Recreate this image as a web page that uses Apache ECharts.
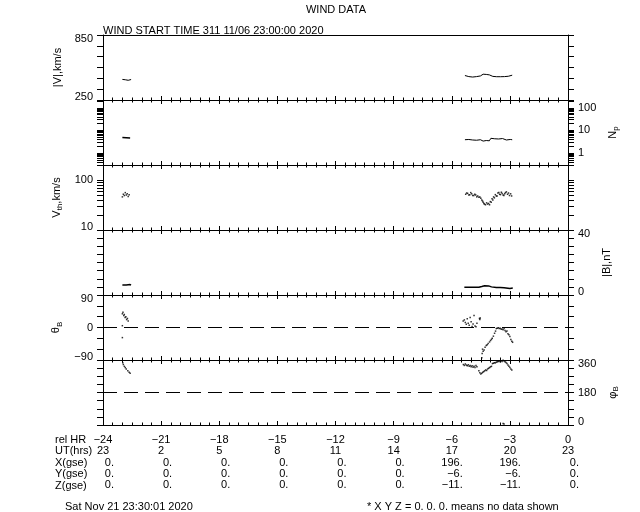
<!DOCTYPE html>
<html><head><meta charset="utf-8">
<script src="https://cdn.jsdelivr.net/npm/echarts@6/dist/echarts.min.js"></script>
<style>html,body{margin:0;padding:0;background:#fff}#c{width:640px;height:512px}</style>
</head><body><div id="c"></div>
<script>
// ---------------- DATA ----------------
// tick table (bottom)
const tickHours   = [-24, -21, -18, -15, -12, -9, -6, -3, 0];
const relHrLabels = ['−24','−21','−18','−15','−12','−9','−6','−3','0'];
const utLabels    = ['23','2','5','8','11','14','17','20','23'];
const xGse        = ['0.','0.','0.','0.','0.','0.','196.','196.','0.'];
const yGse        = ['0.','0.','0.','0.','0.','0.','−6.','−6.','0.'];
const zGse        = ['0.','0.','0.','0.','0.','0.','−11.','−11.','0.'];

// |V| km/s
const vEarlyT = [-23.0, -22.92, -22.85, -22.78, -22.7, -22.62, -22.55];
const vEarly  = [440, 446, 437, 430, 432, 436, 439];
const vLateT  = [-5.32,-5.22,-5.12,-5.02,-4.92,-4.82,-4.72,-4.62,-4.52,-4.45,-4.38,-4.3,-4.22,-4.14,-4.06,-3.98,-3.88,-3.78,-3.68,-3.58,-3.48,-3.38,-3.28,-3.18,-3.08,-2.98,-2.88];
const vLate   = [476,471,466,463,462,464,466,468,472,484,488,487,486,486,482,472,468,466,465,466,465,464,466,467,469,476,479];

// Np
const npEarlyT = [-23.0, -22.9, -22.8, -22.7, -22.6];
const npEarly  = [4.9, 5.0, 4.8, 4.9, 4.7];
const npLateT  = [-5.32,-5.22,-5.12,-5.02,-4.92,-4.82,-4.72,-4.62,-4.52,-4.45,-4.38,-4.3,-4.22,-4.14,-4.06,-3.98,-3.88,-3.78,-3.68,-3.58,-3.48,-3.38,-3.28,-3.18,-3.08,-2.98,-2.88];
const npLate   = [3.9,3.7,4.0,3.6,3.8,4.1,3.7,3.5,3.9,3.6,3.4,3.3,3.6,3.9,3.5,4.5,4.1,4.3,4.6,4.2,3.9,4.4,4.1,3.8,4.3,4.0,3.9];

// Vth km/s
const vthEarlyT = [-23.0,-22.95,-22.9,-22.85,-22.8,-22.75,-22.7,-22.65];
const vthEarly  = [46, 52, 49, 56, 50, 53, 47, 51];
const vthLateT  = [-5.28,-5.23,-5.18,-5.12,-5.07,-5.02,-4.97,-4.92,-4.86,-4.81,-4.76,-4.71,-4.66,-4.6,-4.55,-4.5,-4.45,-4.41,-4.38,-4.34,-4.31,-4.26,-4.2,-4.15,-4.1,-4.05,-4.01,-3.96,-3.92,-3.88,-3.84,-3.8,-3.75,-3.7,-3.66,-3.62,-3.57,-3.53,-3.49,-3.44,-3.4,-3.35,-3.31,-3.27,-3.23,-3.18,-3.12,-3.07,-3.02,-2.96,-2.91];
const vthLate   = [52,55,54,50,51,56,53,49,49,52,50,46,48,45,46,43,40,38,36,34,33,32,35,33,34,32,37,36,42,40,46,44,51,48,48,55,56,52,51,57,54,50,49,53,56,58,52,55,49,53,48];

// |B| nT
const bEarlyT = [-23.0,-22.9,-22.8,-22.7,-22.6,-22.55];
const bEarly  = [6.2, 6.4, 6.1, 6.3, 6.4, 6.2];
const bLateT  = [-5.35,-5.2,-5.0,-4.8,-4.6,-4.5,-4.45,-4.4,-4.3,-4.1,-4.0,-3.95,-3.9,-3.7,-3.5,-3.3,-3.25,-3.2,-3.0,-2.9,-2.85];
const bLate   = [4.8,4.8,4.8,4.8,4.8,4.7,5.2,5.6,5.7,5.6,5.6,5.0,4.7,4.6,4.6,4.5,4.2,4.0,4.0,4.1,4.3];

// theta_B deg
const thEarlyT = [-23.0,-22.97,-22.93,-22.9,-22.86,-22.82,-22.78,-22.74,-22.7,-23.0,-23.0];
const thEarly  = [38, 42, 33, 36, 28, 30, 22, 25, 18, 5, -28];
const thLateT  = [-5.41,-5.35,-5.3,-5.25,-5.2,-5.15,-5.1,-5.05,-5.0,-4.95,-4.9,-4.85,-4.8,-4.75,-4.7,-4.57,-4.55,-4.53,
                  -4.45,-4.43,-4.41,-4.38,-4.33,-4.28,-4.22,-4.17,-4.12,-4.05,-4.0,-3.95,-3.91,-3.85,-3.79,-3.74,-3.7,
                  -3.65,-3.6,-3.55,-3.5,-3.45,-3.4,-3.35,-3.3,-3.25,-3.2,-3.15,-3.1,-3.05,-3.0,-2.95,-2.9,-2.86];
const thLate   = [18,21,14,9,24,12,6,28,16,3,10,33,4,2,12,25,22,26,
                  -84,-72,-60,-66,-62,-55,-50,-48,-44,-40,-36,-33,-30,-24,-16,-10,-3,
                  -2,-1,-3,-2,-5,-4,-6,-3,-8,-12,-10,-17,-20,-25,-33,-38,-41];

// phi_B deg
const phEarlyT = [-22.98,-22.95,-22.9,-22.85,-22.8,-22.72,-22.65,-22.6];
const phEarly  = [345, 335, 325, 318, 310, 300, 292, 286];
const phLateT  = [-5.4,-5.35,-5.3,-5.25,-5.2,-5.15,-5.1,-5.05,-5.0,-4.95,-4.9,-4.85,-4.8,-4.75,-4.7,
                  -4.6,-4.55,-4.5,-4.45,-4.4,-4.35,-4.3,-4.25,-4.2,-4.15,-4.1,-4.05,-4.0,-3.95,
                  -3.9,-3.85,-3.8,-3.75,-3.7,-3.65,-3.6,-3.55,-3.5,-3.45,-3.4,-3.35,-3.3,-3.25,-3.2,-3.15,-3.1,-3.05,-3.0,-2.95,-2.9,
                  -3.35,-3.3];
const phLate   = [335,330,338,332,328,334,326,330,322,328,320,325,318,330,322,
                  300,290,283,286,292,296,300,305,302,310,314,318,322,325,
                  340,342,345,344,348,350,352,354,350,356,352,358,355,350,346,340,333,325,318,310,305,
                  8,6];

// axis tick label values
const vLabels   = [250, 850];
const npLabels  = [1, 10, 100];
const vthLabels = [10, 100];
const bLabels   = [0, 40];
const thLabels  = [-90, 0, 90];
const phLabels  = [0, 180, 360];

// ---------------- CHART ----------------
const FF = "'Liberation Sans', Arial, sans-serif";
const BLACK = '#000';
const zip = (a, b) => a.map((t, i) => [t, b[i]]);
function logTicks(lo, hi) {
  const out = [];
  for (let e = -1; e <= 3; e++) for (let m = 1; m <= 9; m++) {
    const v = +(m * Math.pow(10, e)).toPrecision(6);
    if (v >= lo - 1e-9 && v <= hi + 1e-9) out.push(v);
  }
  return out;
}
const tops = [35, 100, 165, 230, 295, 360];
const PH = 65;
const grids = tops.map(t => ({ left: 103, width: 465, top: t, height: PH, outerBoundsMode: 'none', containLabel: false }));

const xAxes = [];
tops.forEach((t, i) => {
  xAxes.push({
    type: 'value', gridIndex: i, position: 'bottom', min: -24, max: 0, interval: 3,
    axisLine: { show: true, onZero: false, lineStyle: { color: BLACK, width: 1 } },
    axisTick: { show: true, inside: true, length: 4, lineStyle: { color: BLACK, width: 1 } },
    minorTick: { show: true, splitNumber: 6, length: 2.5, lineStyle: { color: BLACK, width: 1 } },
    splitLine: { show: false }, minorSplitLine: { show: false },
    axisLabel: i === 5 ? {
      show: true, margin: 9, fontFamily: FF, fontSize: 11, color: BLACK, hideOverlap: false,
      formatter: (v) => {
        const k = tickHours.indexOf(Math.round(v));
        if (k < 0 || Math.abs(v - Math.round(v)) > 1e-6) return '';
        return `{c|${relHrLabels[k]}}\n{c|${utLabels[k]}}\n{r|${xGse[k]}}\n{r|${yGse[k]}}\n{r|${zGse[k]}}`;
      },
      rich: {
        c: { width: 22, align: 'center', lineHeight: 11.4, fontFamily: FF, fontSize: 11, color: BLACK },
        r: { width: 22, align: 'right', lineHeight: 11.4, fontFamily: FF, fontSize: 11, color: BLACK }
      }
    } : { show: false }
  });
  xAxes.push({
    type: 'value', gridIndex: i, position: 'top', min: -24, max: 0, interval: 3,
    axisLine: { show: true, onZero: false, lineStyle: { color: BLACK, width: 1 } },
    axisTick: { show: i !== 0, inside: true, length: 4, lineStyle: { color: BLACK, width: 1 } },
    minorTick: { show: i !== 0, splitNumber: 6, length: 2.5, lineStyle: { color: BLACK, width: 1 } },
    splitLine: { show: false }, axisLabel: { show: false }
  });
});

const nameStyle = {
  fontFamily: FF, fontSize: 11, color: BLACK,
  rich: {
    n: { fontFamily: FF, fontSize: 11, color: BLACK, lineHeight: 14 },
    s: { fontFamily: FF, fontSize: 8, color: BLACK, lineHeight: 8, verticalAlign: 'bottom' }
  }
};
const labRich = {
  t: { fontFamily: FF, fontSize: 11, color: BLACK, padding: [7, 0, 0, 0] },
  m: { fontFamily: FF, fontSize: 11, color: BLACK },
  b: { fontFamily: FF, fontSize: 11, color: BLACK, padding: [0, 0, 6, 0] }
};
function labelCfg(show, vals, lo, hi) {
  return {
    show: show, margin: 10, fontFamily: FF, fontSize: 11, color: BLACK,
    showMinLabel: true, showMaxLabel: true, hideOverlap: false,
    rich: labRich,
    formatter: (v) => {
      const hit = vals.find(x => Math.abs(x - v) < 1e-6 * Math.max(1, Math.abs(x)));
      if (hit === undefined) return '';
      const s = String(hit).replace('-', '−');
      const tag = Math.abs(hit - hi) < 1e-6 * Math.max(1, Math.abs(hi)) ? 't'
                : Math.abs(hit - lo) < 1e-6 * Math.max(1, Math.abs(lo)) ? 'b' : 'm';
      return `{${tag}|${s}}`;
    }
  };
}
function yPair(i, base, leftLabels, rightLabels, nameSide, name, gap) {
  const mk = (pos) => {
    const labs = pos === 'left' ? leftLabels : rightLabels;
    const a = Object.assign({
      gridIndex: i, position: pos,
      axisLine: { show: true, onZero: false, lineStyle: { color: BLACK, width: 1 } },
      axisTick: Object.assign({ show: true, inside: false, length: 6, lineStyle: { color: BLACK, width: 1 } }, base.tick || {}),
      splitLine: { show: false },
      axisLabel: labelCfg(!!labs, labs || [], base.axis.min, base.axis.max)
    }, base.axis);
    if (nameSide === pos) {
      a.name = name; a.nameLocation = 'middle'; a.nameRotate = 90; a.nameGap = gap;
      a.nameTextStyle = nameStyle;
    }
    return a;
  };
  return [mk('left'), mk('right')];
}

const yAxes = [].concat(
  yPair(0, { axis: { type: 'value', min: 250, max: 850, interval: 100 } }, vLabels, null, 'left', '|V|,km/s', 37),
  yPair(1, { axis: { type: 'log', logBase: 10, min: 0.3, max: 220 }, tick: { customValues: logTicks(0.3, 220) } }, null, npLabels, 'right', '{n|N}{s|p}', 34),
  yPair(2, { axis: { type: 'log', logBase: 10, min: 10, max: 200 }, tick: { customValues: logTicks(10, 200) } }, vthLabels, null, 'left', '{n|V}{s|th}{n|,km/s}', 37),
  yPair(3, { axis: { type: 'value', min: 0, max: 40, interval: 5 } }, null, bLabels, 'right', '|B|,nT', 29),
  yPair(4, { axis: { type: 'value', min: -90, max: 90, interval: 30 } }, thLabels, null, 'left', '{n|θ}{s|B}', 38),
  yPair(5, { axis: { type: 'value', min: 0, max: 360, interval: 45 } }, null, phLabels, 'right', '{n|φ}{s|B}', 36)
);

function lineS(i, t, v, w) {
  return { type: 'line', xAxisIndex: 2 * i, yAxisIndex: 2 * i, data: zip(t, v), showSymbol: false, symbol: 'none',
           lineStyle: { color: BLACK, width: w || 1 }, itemStyle: { color: BLACK }, silent: true, animation: false, z: 5 };
}
function dotS(i, t, v) {
  return { type: 'scatter', xAxisIndex: 2 * i, yAxisIndex: 2 * i, data: zip(t, v), symbol: 'rect', symbolSize: 1.5,
           itemStyle: { color: BLACK }, silent: true, animation: false, z: 5 };
}
function dashLine(val) {
  return { silent: true, symbol: ['none', 'none'], label: { show: false }, animation: false,
           lineStyle: { color: BLACK, width: 1, type: [14, 7] }, data: [{ yAxis: val }] };
}

const th0 = dotS(4, thEarlyT, thEarly); th0.markLine = dashLine(0);
const ph0 = dotS(5, phEarlyT, phEarly); ph0.markLine = dashLine(180);

const series = [
  lineS(0, vEarlyT, vEarly), lineS(0, vLateT, vLate),
  lineS(1, npEarlyT, npEarly, 1.5), lineS(1, npLateT, npLate),
  dotS(2, vthEarlyT, vthEarly), dotS(2, vthLateT, vthLate),
  lineS(3, bEarlyT, bEarly, 1.5), lineS(3, bLateT, bLate, 1.5),
  th0, dotS(4, thLateT, thLate),
  ph0, dotS(5, phLateT, phLate)
];

const txt = (x, y, text, align) => ({
  type: 'text', x: x, y: y, silent: true,
  style: { text: text, fontFamily: FF, fontSize: 11, fill: BLACK, align: align || 'left', verticalAlign: 'middle' }
});
const rowLabels = ['rel HR', 'UT(hrs)', 'X(gse)', 'Y(gse)', 'Z(gse)'];
const rowY = [440, 451.4, 462.8, 474.2, 485.6];

const option = {
  animation: false,
  backgroundColor: '#fff',
  textStyle: { fontFamily: FF, color: BLACK },
  grid: grids,
  xAxis: xAxes,
  yAxis: yAxes,
  series: series,
  graphic: [
    txt(336, 10, 'WIND DATA', 'center'),
    txt(103, 30.5, 'WIND START TIME 311 11/06 23:00:00 2020', 'left'),
    txt(65, 507, 'Sat Nov 21 23:30:01 2020', 'left'),
    txt(367, 507, '* X Y Z = 0. 0. 0. means no data shown', 'left')
  ].concat(rowLabels.map((r, k) => txt(55, rowY[k], r, 'left')))
};
const chart = echarts.init(document.getElementById('c'), null, { renderer: 'canvas' });
chart.setOption(option);
</script>
</body></html>
